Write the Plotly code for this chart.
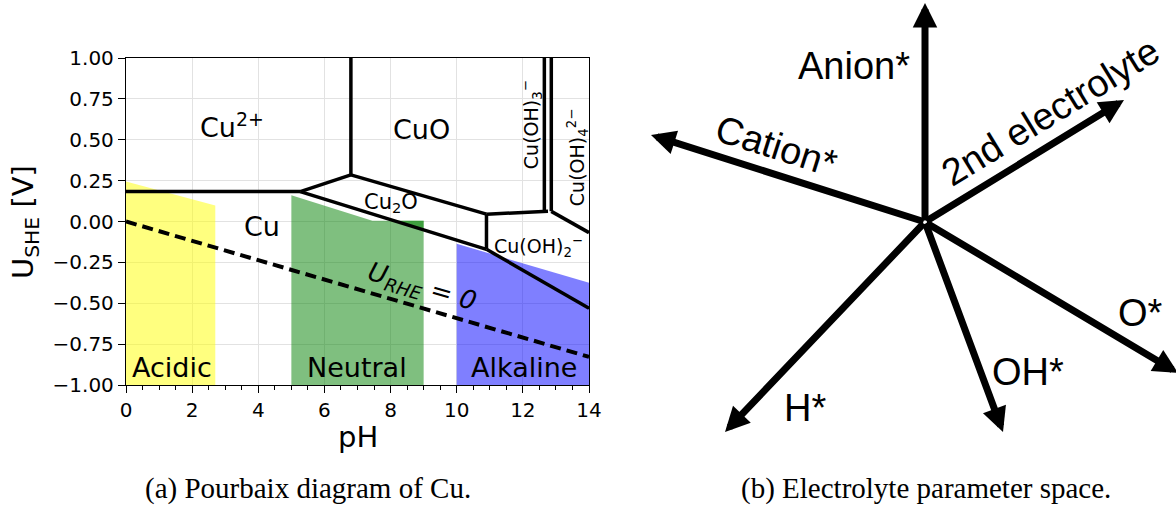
import math
import plotly.graph_objects as go

W, H = 1176, 506

# ---------------- (a) Pourbaix diagram of Cu : data ----------------
ph_ticks = [0, 2, 4, 6, 8, 10, 12, 14]
u_ticks = [-1.0, -0.75, -0.5, -0.25, 0.0, 0.25, 0.5, 0.75, 1.0]

# phase boundaries (pH, U_SHE)
cu_cu2_ph, cu_cu2_u = [0, 5.27], [0.183, 0.183]
cu2o_cu2_ph, cu2o_cu2_u = [5.27, 6.8], [0.183, 0.285]
cuo_cu2_ph, cuo_cu2_u = [6.8, 6.8], [0.285, 1.0]
cuo_cu2o_ph, cuo_cu2o_u = [6.8, 10.9], [0.285, 0.045]
cu_cu2o_ph, cu_cu2o_u = [5.27, 10.9], [0.183, -0.17]
cu2o_cuoh2_ph, cu2o_cuoh2_u = [10.9, 10.9], [-0.17, 0.045]
cuo_cuoh2_ph, cuo_cuoh2_u = [10.9, 12.76], [0.045, 0.062]
cuo_cuoh3_ph, cuo_cuoh3_u = [12.65, 12.65], [0.062, 1.0]
cuoh3_cuoh4_ph, cuoh3_cuoh4_u = [12.86, 12.86], [0.062, 1.0]
cuoh2_cuoh4_ph, cuoh2_cuoh4_u = [12.86, 14], [0.062, -0.068]
cu_cuoh2_ph, cu_cuoh2_u = [10.9, 14], [-0.17, -0.53]
rhe_ph, rhe_u = [0, 14], [0.0, -0.828]

# electrolyte regions
acidic_ph, acidic_u = [0, 0, 2.7, 2.7], [-1, 0.245, 0.098, -1]
neutral_ph, neutral_u = [5, 5, 7.45, 9, 9], [-1, 0.16, 0.004, 0.004, -1]
neutral_top_ph, neutral_top_u = [8.1, 9, 9], [0.004, 0.004, -0.051]
alkaline_ph, alkaline_u = [10, 10, 14, 14], [-1, -0.136, -0.375, -1]

# labels
phase_text = ["Cu<sup>2+</sup>", "CuO", "Cu", "Cu<sub>2</sub>O",
              "Cu(OH)<sub>2</sub><sup>−</sup>", "Cu(OH)<sub>3</sub><sup>−</sup>",
              "Cu(OH)<sub>4</sub><sup>2−</sup>"]
phase_ph = [3.2, 8.93, 4.1, 8.0, 12.47, 12.25, 13.65]
phase_u = [0.59, 0.56, -0.03, 0.114, -0.153, 0.59, 0.39]
region_text = ["Acidic", "Neutral", "Alkaline"]
region_ph = [1.39, 6.98, 12.04]
region_u = [-0.89, -0.89, -0.89]

# ---------------- (b) Electrolyte parameter space : data ----------------
param_names = ["Anion*", "Cation*", "2nd electrolyte", "O*", "OH*", "H*"]
param_dx = [0, -274, 199, 253, 78, -200]
param_dy = [219, 87, 122, -151, -210, -210]

# ---------------- styling / layout ----------------
label_dx = [-71, -149, 125, 215, 103, -120]
label_dy = [156, 76, 110, -91, -150, -186]
label_along = [False, True, True, False, False, False]

fig = go.Figure()

fills = [
    (acidic_ph, acidic_u, "rgba(255,255,0,0.5)"),
    (neutral_ph, neutral_u, "rgba(0,128,0,0.5)"),
    (neutral_top_ph, neutral_top_u, "rgba(0,128,0,0.5)"),
    (alkaline_ph, alkaline_u, "rgba(0,0,255,0.5)"),
]
for px, pu, col in fills:
    fig.add_trace(go.Scatter(x=px, y=pu, fill="toself", fillcolor=col, mode="none",
                             hoverinfo="skip", showlegend=False))

bounds = [
    (cu_cu2_ph, cu_cu2_u), (cu2o_cu2_ph, cu2o_cu2_u), (cuo_cu2_ph, cuo_cu2_u),
    (cuo_cu2o_ph, cuo_cu2o_u), (cu_cu2o_ph, cu_cu2o_u), (cu2o_cuoh2_ph, cu2o_cuoh2_u),
    (cuo_cuoh2_ph, cuo_cuoh2_u), (cuo_cuoh3_ph, cuo_cuoh3_u),
    (cuoh3_cuoh4_ph, cuoh3_cuoh4_u), (cuoh2_cuoh4_ph, cuoh2_cuoh4_u),
    (cu_cuoh2_ph, cu_cuoh2_u),
]
for bx, bu in bounds:
    fig.add_trace(go.Scatter(x=bx, y=bu, mode="lines", line=dict(color="black", width=3.5),
                             hoverinfo="skip", showlegend=False))

fig.add_trace(go.Scatter(x=rhe_ph, y=rhe_u, mode="lines",
                         line=dict(color="black", width=4, dash="11px,6px"),
                         hoverinfo="skip", showlegend=False))

ann = []
mpl_font = "DejaVu Sans"
C = dict(xanchor="center", yanchor="middle")
sizes = [27, 27, 27, 21, 19, 19, 19]
angles = [0, 0, 0, 0, 0, -90, -90]
for t, x, y, s, a in zip(phase_text, phase_ph, phase_u, sizes, angles):
    ann.append(dict(x=x, y=y, xref="x", yref="y", text=t, showarrow=False, textangle=a,
                    font=dict(family=mpl_font, size=s, color="black"), **C))
for t, x, y in zip(region_text, region_ph, region_u):
    ann.append(dict(x=x, y=y, xref="x", yref="y", text=t, showarrow=False,
                    font=dict(family=mpl_font, size=27, color="black"), **C))
rhe_angle = math.degrees(math.atan(
    (rhe_u[0] - rhe_u[1]) / 2.0 * 327 / ((rhe_ph[1] - rhe_ph[0]) * 463 / 14)))
ann.append(dict(x=8.94, y=-0.405, xref="x", yref="y",
                text="<i>U</i><sub><i>RHE</i></sub><i> = 0</i>", showarrow=False,
                textangle=rhe_angle, font=dict(family=mpl_font, size=26, color="black"), **C))

# axis titles
ann.append(dict(x=25 / W, y=1 - 222 / H, xref="paper", yref="paper",
                text="U<sub>SHE</sub> [V]", showarrow=False, textangle=-90,
                font=dict(family=mpl_font, size=29, color="black"), **C))
ann.append(dict(x=357.5 / W, y=1 - 437 / H, xref="paper", yref="paper", text="pH",
                showarrow=False, font=dict(family=mpl_font, size=29, color="black"), **C))

# arrows of panel (b)
for dx, dy in zip(param_dx, param_dy):
    ann.append(dict(x=dx, y=dy, ax=0, ay=0, xref="x2", yref="y2", axref="x2", ayref="y2",
                    text="", showarrow=True, arrowhead=2, arrowsize=0.7, arrowwidth=7,
                    arrowcolor="black", standoff=0, startstandoff=0))
for name, dx, dy, lx, ly, along in zip(param_names, param_dx, param_dy,
                                        label_dx, label_dy, label_along):
    ang = 0
    if along:
        vx, vy = (dx, dy) if dx > 0 else (-dx, -dy)
        ang = -math.degrees(math.atan2(vy, vx))
    ann.append(dict(x=lx, y=ly, xref="x2", yref="y2", text=name, showarrow=False,
                    textangle=ang, font=dict(family="Liberation Sans", size=38, color="black"),
                    **C))

# captions
for cx, ctext in [(308 / W, "(a) Pourbaix diagram of Cu."),
                  (926 / W, "(b) Electrolyte parameter space.")]:
    ann.append(dict(x=cx, y=0, xref="paper", yref="paper", text=ctext, showarrow=False,
                    xanchor="center", yanchor="bottom", borderpad=0,
                    font=dict(family="Liberation Serif", size=29, color="black")))

fig.update_layout(
    width=W, height=H, autosize=False,
    margin=dict(l=0, r=0, t=0, b=0, pad=0, autoexpand=False),
    paper_bgcolor="white", plot_bgcolor="white",
    showlegend=False,
    annotations=ann,
    xaxis=dict(domain=[126 / W, 589 / W], range=[0, 14], tickvals=ph_ticks,
               ticks="outside", ticklen=7, tickwidth=1.3, tickcolor="black",
               showline=True, mirror=True, linecolor="black", linewidth=1.3,
               showgrid=True, gridcolor="#e2e2e2", gridwidth=1, zeroline=False,
               tickfont=dict(family=mpl_font, size=20, color="black"),
               minor=dict(dtick=0.5, ticks="outside", ticklen=4, tickcolor="black",
                          showgrid=False),
               anchor="y", fixedrange=True, automargin=False),
    yaxis=dict(domain=[1 - 385 / H, 1 - 58 / H], range=[-1, 1], tickvals=u_ticks,
               tickformat=".2f",
               ticks="outside", ticklen=7, tickwidth=1.3, tickcolor="black",
               showline=True, mirror=True, linecolor="black", linewidth=1.3,
               showgrid=True, gridcolor="#e2e2e2", gridwidth=1, zeroline=False,
               tickfont=dict(family=mpl_font, size=20, color="black"),
               anchor="x", fixedrange=True, automargin=False),
    xaxis2=dict(domain=[620 / W, 1], range=[-305, 251], visible=False, anchor="y2",
                fixedrange=True, automargin=False),
    yaxis2=dict(domain=[0, 1], range=[-284, 222], visible=False, anchor="x2",
                fixedrange=True, automargin=False),
)

fig.write_html("out.html")
